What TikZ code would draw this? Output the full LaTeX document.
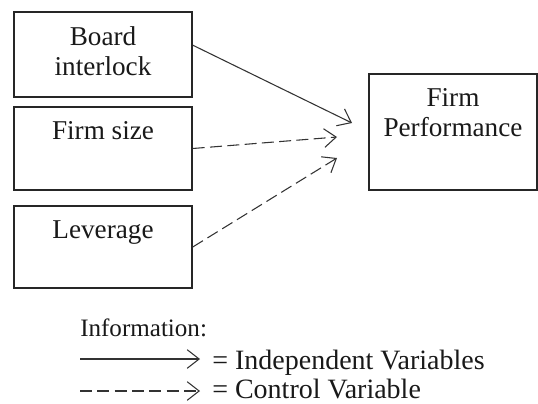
\documentclass[tikz,border=0pt]{standalone}
\usepackage{fontspec}
\setmainfont{Liberation Serif}
\usetikzlibrary{arrows.meta}
\tikzset{
  varbox/.style={draw=black!85, line width=1.1pt, minimum width=133.5pt, inner sep=0pt},
  boxtext/.style={anchor=north, inner sep=0pt, yshift=-11pt, align=center, text=black!90, font=\fontsize{20.4}{22.5}\selectfont},
  link/.style={draw=black!80, line width=0.8pt, -{Straight Barb[length=9pt,width=14pt]}},
  ctrl/.style={link, dash pattern=on 9pt off 4pt},
  legtext/.style={anchor=base west, inner sep=0pt, text=black!90, font=\fontsize{21}{24}\selectfont},
}
\begin{document}
\begin{tikzpicture}[x=0.75pt,y=-0.75pt]
\useasboundingbox (0,0) rectangle (538,403);
% variables
\node[varbox, minimum height=63.75pt, label={[boxtext]north:Board\\interlock}] (board) at (103,54.5) {};
\node[varbox, minimum height=62.25pt, label={[boxtext]north:Firm size}] (size) at (103,148.5) {};
\node[varbox, minimum height=61.5pt, label={[boxtext]north:Leverage}] (lev) at (103,247) {};
\node[varbox, minimum width=126pt, minimum height=87pt, label={[boxtext]north:Firm\\Performance}] (perf) at (453,132) {};
% arrows
\coordinate (in1) at (352,123);
\coordinate (in2) at (337,137);
\coordinate (in3) at (337,158);
\draw[link] ([yshift=7pt]board.east) -- (in1);
\draw[ctrl] (size.east) -- (in2);
\draw[ctrl] (lev.east) -- (in3);
% legend
\node[anchor=base west, inner sep=0pt, text=black!90, font=\fontsize{18.8}{20}\selectfont] (info) at (80,336) {Information:};
\coordinate (l1) at (80,359);
\coordinate (l2) at (200,359);
\coordinate (l3) at (80,391);
\coordinate (l4) at (200,391);
\draw[link] (l1) -- (l2);
\draw[ctrl] (l3) -- (l4);
\node[legtext] (indep) at (212,369) {= Independent Variables};
\node[legtext] (control) at (212,398) {= Control Variable};
\end{tikzpicture}
\end{document}
